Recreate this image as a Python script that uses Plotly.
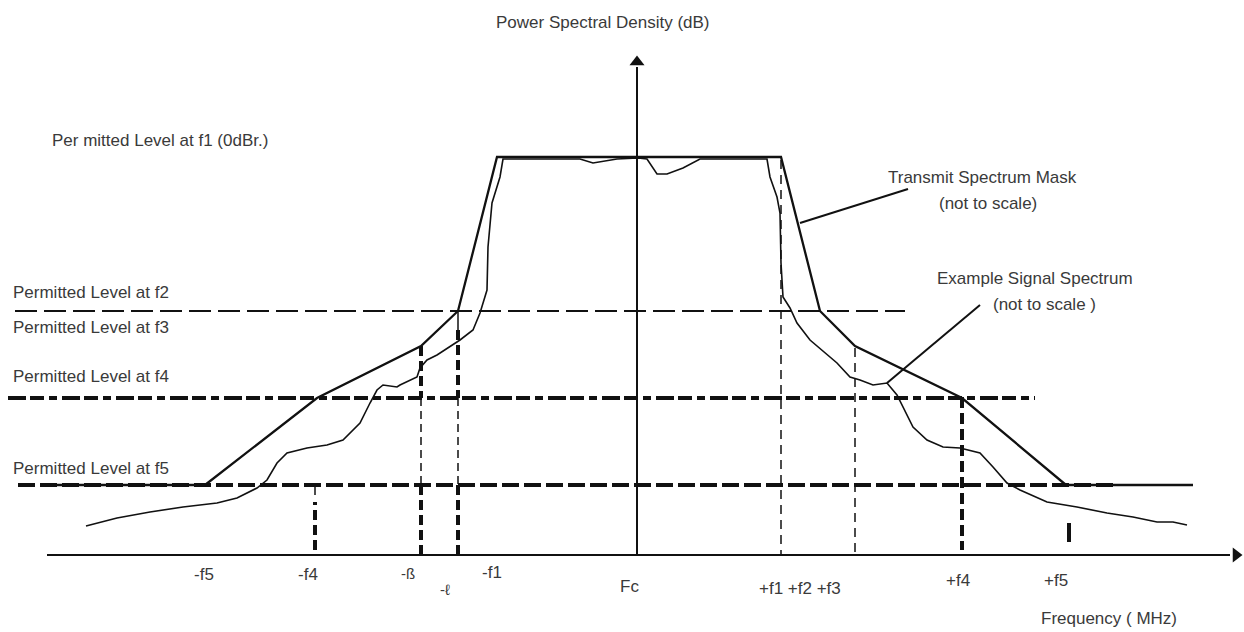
import plotly.graph_objects as go

# ---------------- data (schematic units: x = offset from Fc, y = level above baseline) -------------
freq_names = ["-f5", "-f4", "-f3", "-f2", "-f1", "+f1", "+f2", "+f3", "+f4", "+f5"]
freq_pos = [-432, -322, -216, -179, -140, 144, 183, 218, 325, 429]

level_names = ["f1", "f2", "f3", "f4", "f5"]
level_vals = [398, 244, 209, 157, 70]

# transmit spectrum mask
mask_x = [-592, -432, -320, -216, -179, -140, 144, 183, 218, 325, 429, 556]
mask_y = [70, 70, 157, 209, 244, 398, 398, 244, 209, 157, 70, 70]

# example signal spectrum
sig_x = [-551, -520, -487, -454, -420, -400, -380, -370, -360, -350, -330, -310, -294, -277,
         -267, -260, -254, -240, -237, -220, -217, -210, -200, -187, -177, -164, -157, -150,
         -149, -145, -137, -134, -130, -77, -57, -44, -30, -20, 1, 10, 20, 30, 46, 63, 130,
         133, 140, 143, 144, 146, 153, 160, 173, 200, 213, 223, 236, 250, 260, 266, 276, 290,
         306, 323, 343, 356, 370, 383, 410, 440, 470, 496, 520, 536, 550]
sig_y = [29, 37, 43, 48, 52, 57, 67, 75, 92, 102, 107, 110, 115, 132,
         152, 165, 170, 168, 170, 178, 187, 195, 200, 208, 215, 225, 242, 265,
         308, 352, 378, 396, 396, 396, 396, 392, 394, 396, 397, 396, 381, 381, 387, 396, 396,
         378, 358, 342, 292, 258, 247, 232, 215, 192, 178, 175, 170, 172, 160, 148, 128, 115,
         108, 107, 102, 88, 72, 65, 53, 48, 42, 38, 33, 33, 30]

# horizontal permitted-level guide lines: (level, x start, x end)
guide_f2 = (244, -622, 268)
guide_f4 = (157, -629, 398)
guide_f5 = (70, -619, 481)

# vertical frequency guides: (x, y0, y1, width, dash)
vguides = [
    (-322, 60, 68, 1.5, "solid"),
    (-322, 5, 53, 4, "10px,5px"),
    (-216, 209, 157, 4, "10px,5px"),
    (-216, 157, 70, 1.5, "8px,5px"),
    (-216, 70, 0, 4, "10px,5px"),
    (-179, 244, 225, 1.5, "solid"),
    (-179, 225, 157, 4, "10px,5px"),
    (-179, 157, 70, 1.5, "8px,5px"),
    (-179, 70, -5, 4, "10px,5px"),
    (144, 395, 0, 1.5, "9px,6px"),
    (218, 207, 0, 1.5, "9px,6px"),
    (325, 158, 5, 4, "11px,5px"),
    (432, 13, 32, 4, "solid"),
]

# text labels
level_labels = ["Per mitted Level at f1 (0dBr.)", "Permitted Level at f2", "Permitted Level at f3",
                "Permitted Level at f4", "Permitted Level at f5"]
level_label_x = [-587, -626, -626, -626, -626]
level_label_y = [415, 263, 228, 179, 87]

tick_labels = ["-f5", "-f4", "-ß", "-ℓ", "-f1", "Fc", "+f1 +f2 +f3", "+f4", "+f5"]
tick_label_x = [-433, -329, -229, -192, -145, -8, 163, 321, 419]
tick_label_y = [-19, -19, -18, -34, -17, -31, -33, -25, -25]

X_RANGE = [-637, 607]
Y_RANGE = [-77, 555]
AXIS_X_START = -590
AXIS_X_END = 593
AXIS_Y_END = 488

INK = "#111111"
TXT = "#3a3a3a"
FONT = "Liberation Sans, Arial, sans-serif"
FS = 17

fig = go.Figure()

def line(x, y, width, dash="solid", color=INK):
    fig.add_trace(go.Scatter(x=x, y=y, mode="lines", hoverinfo="skip", showlegend=False,
                             line=dict(color=color, width=width, dash=dash)))

# level guides
line([guide_f2[1], guide_f2[2]], [guide_f2[0]] * 2, 2.0, "22px,7px")
line([guide_f4[1], guide_f4[2]], [guide_f4[0]] * 2, 4.2, "18px,4px,14px,5px,8px,5px")
line([guide_f5[1], guide_f5[2]], [guide_f5[0]] * 2, 4.2, "17px,5px")

for vx, y0, y1, w, d in vguides:
    line([vx, vx], [y0, y1], w, d)

# axes
line([0, 0], [0, AXIS_Y_END], 2)
line([AXIS_X_START, AXIS_X_END], [0, 0], 2)
fig.add_trace(go.Scatter(x=[0], y=[AXIS_Y_END + 5], mode="markers", hoverinfo="skip", showlegend=False,
                         marker=dict(symbol="triangle-up", size=13, color=INK)))
fig.add_trace(go.Scatter(x=[AXIS_X_END + 6], y=[0], mode="markers", hoverinfo="skip", showlegend=False,
                         marker=dict(symbol="triangle-right", size=13, color=INK)))

# mask and signal
line(mask_x, mask_y, 2.3)
line(sig_x, sig_y, 1.6, "solid")

# callouts
line([163, 271], [332, 366], 2)
line([250, 343], [172, 250], 2)

ann = []
def text(x, y, s, anchor="center", size=FS):
    ann.append(dict(x=x, y=y, text=s, showarrow=False, xanchor=anchor, yanchor="middle",
                    font=dict(family=FONT, size=size, color=TXT)))

text(-34, 533, "Power Spectral Density (dB)")
for s, lx, ly in zip(level_labels, level_label_x, level_label_y):
    text(lx, ly, s, anchor="left")
for s, lx, ly in zip(tick_labels, tick_label_x, tick_label_y):
    text(lx, ly, s, size=15 if s in ("-ß", "-ℓ") else FS)
text(345, 378, "Transmit Spectrum Mask")
text(351, 352, "(not to scale)")
text(398, 277, "Example Signal Spectrum")
text(407, 251, "(not to scale )")
text(472, -63, "Frequency ( MHz)")

fig.update_layout(
    width=1244, height=632,
    margin=dict(l=0, r=0, t=0, b=0),
    paper_bgcolor="white", plot_bgcolor="white",
    xaxis=dict(range=X_RANGE, visible=False, fixedrange=True),
    yaxis=dict(range=Y_RANGE, visible=False, fixedrange=True),
    annotations=ann,
    showlegend=False,
)

fig.write_html("out.html", config={"displayModeBar": False, "staticPlot": True},
               post_script="document.body.style.margin='0';document.body.style.overflow='hidden';")
